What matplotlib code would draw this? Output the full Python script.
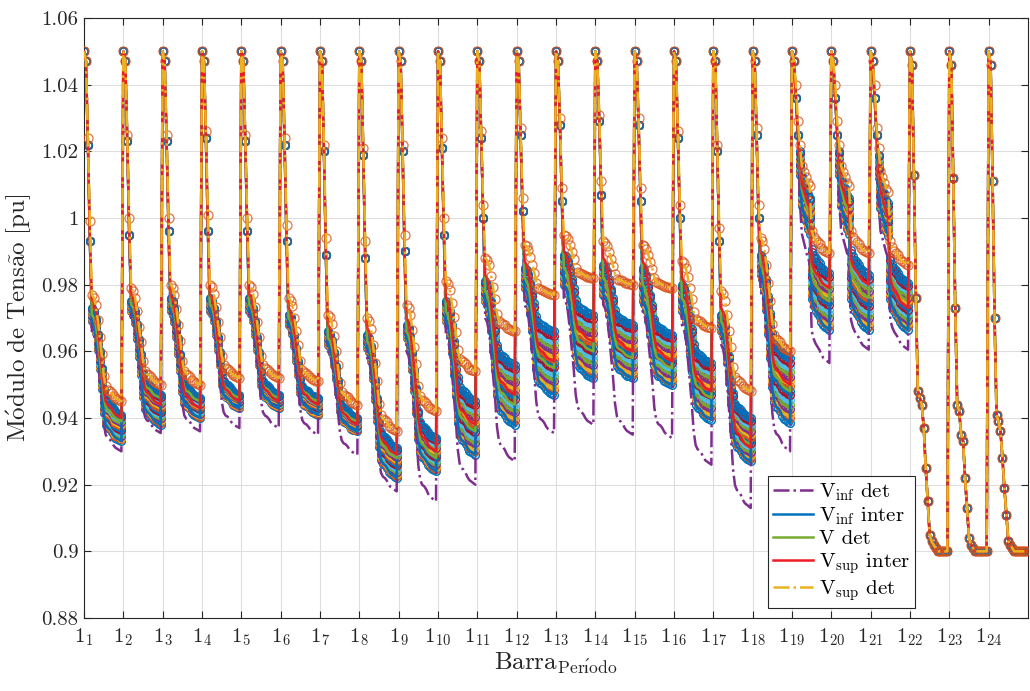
import numpy as np
import matplotlib
matplotlib.use('Agg')
import matplotlib.pyplot as plt

plt.rcParams['font.family'] = ['cmr10', 'DejaVu Serif']
plt.rcParams['mathtext.fontset'] = 'cm'
plt.rcParams['axes.formatter.use_mathtext'] = True

# Estrutura: 24 períodos, 20 barras por período
n_barras = 20
n_periodos = 24

# Barras 3 e 4 (cabeça do alimentador), períodos 1..21
cabeca_b3 = [1.022, 1.023, 1.023, 1.024, 1.023, 1.022, 1.020, 1.019, 1.020, 1.021, 1.024,
             1.025, 1.028, 1.029, 1.028, 1.024, 1.020, 1.025, 1.036, 1.036, 1.036]
cabeca_b4 = [0.993, 0.995, 0.996, 0.996, 0.996, 0.993, 0.989, 0.988, 0.990, 0.995, 1.000,
             1.002, 1.005, 1.007, 1.005, 1.000, 0.993, 1.000, 1.025, 1.025, 1.025]
cabeca_sup_b3 = [1.024, 1.025, 1.025, 1.026, 1.025, 1.024, 1.022, 1.021, 1.022, 1.024, 1.026,
                 1.027, 1.030, 1.031, 1.030, 1.026, 1.022, 1.027, 1.040, 1.040, 1.040]
cabeca_sup_b4 = [0.999, 1.000, 1.000, 1.001, 1.000, 0.998, 0.994, 0.993, 0.995, 1.000, 1.004,
                 1.006, 1.009, 1.011, 1.009, 1.004, 0.997, 1.004, 1.029, 1.029, 1.027]

# Valor no "joelho" (barra 5) de cada curva, períodos 1..21
joelho_sup = [0.977, 0.979, 0.980, 0.980, 0.980, 0.976, 0.971, 0.970, 0.974, 0.981, 0.988,
              0.992, 0.995, 0.993, 0.992, 0.987, 0.978, 0.994, 1.022, 1.022, 1.021]
joelho_alto = [0.973, 0.975, 0.976, 0.976, 0.976, 0.971, 0.966, 0.965, 0.968, 0.975, 0.981,
               0.985, 0.989, 0.986, 0.985, 0.980, 0.971, 0.989, 1.020, 1.020, 1.019]
joelho_baixo = [0.969, 0.972, 0.972, 0.972, 0.972, 0.968, 0.962, 0.961, 0.964, 0.969, 0.975,
                0.979, 0.980, 0.977, 0.975, 0.972, 0.966, 0.983, 1.013, 1.013, 1.012]
joelho_inf = [0.966, 0.970, 0.970, 0.971, 0.971, 0.966, 0.960, 0.958, 0.960, 0.965, 0.970,
              0.974, 0.976, 0.974, 0.972, 0.968, 0.962, 0.978, 1.005, 1.005, 1.005]
joelho_verm = [0.976, 0.977, 0.977, 0.977, 0.977, 0.973, 0.968, 0.967, 0.970, 0.976, 0.983,
               0.987, 0.990, 0.988, 0.987, 0.982, 0.973, 0.990, 1.018, 1.018, 1.017]
joelho_verde = [0.971, 0.974, 0.974, 0.974, 0.974, 0.970, 0.964, 0.963, 0.966, 0.972, 0.978,
                0.982, 0.985, 0.982, 0.980, 0.976, 0.969, 0.986, 1.017, 1.017, 1.016]

# Valor no fim do alimentador (barra 20), períodos 1..21
fim_sup = [0.945, 0.950, 0.950, 0.952, 0.952, 0.951, 0.944, 0.936, 0.942, 0.954, 0.966,
           0.977, 0.982, 0.980, 0.979, 0.967, 0.948, 0.960, 0.9895, 0.9895, 0.986]
fim_alto = [0.941, 0.947, 0.946, 0.947, 0.947, 0.946, 0.940, 0.931, 0.934, 0.945, 0.956,
            0.966, 0.971, 0.968, 0.965, 0.9565, 0.940, 0.958, 0.9835, 0.983, 0.9805]
fim_baixo = [0.933, 0.938, 0.940, 0.943, 0.943, 0.941, 0.936, 0.922, 0.924, 0.929, 0.938,
             0.947, 0.952, 0.952, 0.950, 0.9395, 0.927, 0.9385, 0.9665, 0.9665, 0.9665]
fim_inf = [0.930, 0.9355, 0.936, 0.937, 0.937, 0.935, 0.929, 0.918, 0.915, 0.920, 0.927,
           0.9355, 0.938, 0.935, 0.934, 0.926, 0.913, 0.930, 0.9565, 0.9605, 0.9605]
fim_verm = [0.940, 0.944, 0.943, 0.945, 0.945, 0.944, 0.938, 0.929, 0.930, 0.938, 0.947,
            0.957, 0.963, 0.960, 0.957, 0.948, 0.931, 0.950, 0.979, 0.980, 0.973]
fim_verde = [0.939, 0.946, 0.945, 0.946, 0.946, 0.945, 0.939, 0.928, 0.928, 0.936, 0.944,
             0.955, 0.960, 0.958, 0.955, 0.946, 0.932, 0.948, 0.975, 0.976, 0.975]

# Forma do perfil entre joelho (0) e fim (1), barras 5..20
forma_a = [0.0, 0.03, 0.10, 0.24, 0.40, 0.56, 0.76, 0.86, 0.89, 0.90, 0.92, 0.95, 0.97, 0.98, 0.99, 1.0]
forma_b = [0.0, 0.20, 0.25, 0.30, 0.35, 0.38, 0.80, 0.85, 0.88, 0.90, 0.92, 0.95, 0.97, 0.98, 0.99, 1.0]

# Períodos 22..24: todas as curvas coincidem
perfil_22 = [1.05, 1.046, 1.013, 0.976, 0.948, 0.946, 0.944, 0.937, 0.925, 0.915, 0.905, 0.903,
             0.902, 0.901, 0.900, 0.900, 0.900, 0.900, 0.900, 0.900]
perfil_23 = [1.05, 1.046, 1.012, 0.973, 0.944, 0.942, 0.935, 0.933, 0.922, 0.913, 0.904, 0.902,
             0.901, 0.900, 0.900, 0.900, 0.900, 0.900, 0.900, 0.900]
perfil_24 = [1.05, 1.046, 1.011, 0.970, 0.941, 0.939, 0.936, 0.928, 0.919, 0.911, 0.903, 0.902,
             0.901, 0.900, 0.900, 0.900, 0.900, 0.900, 0.900, 0.900]

# posição relativa de cada cenário dentro da faixa
q_cenarios = [0.0, 0.07, 0.14, 0.21, 0.28, 0.35, 0.43, 0.5, 0.57, 0.64, 0.71, 0.79, 0.86, 0.93, 1.0]

cores_matlab = [(0, 0.447, 0.741), (0.85, 0.325, 0.098), (0.929, 0.694, 0.125),
                (0.494, 0.184, 0.556), (0.466, 0.674, 0.188), (0.301, 0.745, 0.933),
                (0.635, 0.078, 0.184)]


def monta(b3, b4, joelho, fim):
    serie = []
    for k in range(21):
        forma = forma_b if k >= 18 else forma_a
        serie += [1.05, 1.047, b3[k], b4[k]]
        serie += [joelho[k] - f * (joelho[k] - fim[k]) for f in forma]
    for p in (perfil_22, perfil_23, perfil_24):
        serie += p
    return np.array(serie)


v_sup = monta(cabeca_sup_b3, cabeca_sup_b4, joelho_sup, fim_sup)
v_alto = monta(cabeca_b3, cabeca_b4, joelho_alto, fim_alto)
v_baixo = monta(cabeca_b3, cabeca_b4, joelho_baixo, fim_baixo)
v_inf = monta(cabeca_b3, cabeca_b4, joelho_inf, fim_inf)
v_verm = monta(cabeca_b3, cabeca_b4, joelho_verm, fim_verm)
v_verde = monta(cabeca_b3, cabeca_b4, joelho_verde, fim_verde)

x = np.arange(1, n_periodos * n_barras + 1)

fig = plt.figure(figsize=(10.3, 6.91), dpi=100)
ax = fig.add_axes([84 / 1030, 73 / 691, 944 / 1030, 600 / 691])

# cenários
for i, q in enumerate(q_cenarios):
    y = v_baixo + q * (v_alto - v_baixo)
    ax.plot(x, y, '-o', color=cores_matlab[i % 7], lw=1.0, ms=5.5, mfc='none', mew=1.0, zorder=2)

l1, = ax.plot(x, v_inf, '-.', color=(0.494, 0.184, 0.556), lw=1.8, zorder=3)
l2, = ax.plot(x, v_baixo, '-', color=(0, 0.447, 0.741), lw=1.8, zorder=3)
l3, = ax.plot(x, v_verde, '-', color=(0.466, 0.674, 0.188), lw=1.8, zorder=3)
l4, = ax.plot(x, v_verm, '-', color=(0.93, 0.11, 0.14), lw=1.8, zorder=3)
ax.plot(x, v_sup, 'o', color=(0.85, 0.325, 0.098), ms=6.5, mfc='none', mew=0.9, alpha=0.8, zorder=4)
l5, = ax.plot(x, v_sup, '-.', color=(0.929, 0.694, 0.125), lw=1.8, zorder=5)

ax.set_xlim(1, 481)
ax.set_ylim(0.88, 1.06)
yt = [0.88, 0.9, 0.92, 0.94, 0.96, 0.98, 1.0, 1.02, 1.04, 1.06]
ax.set_yticks(yt)
ax.set_yticklabels(['0.88', '0.9', '0.92', '0.94', '0.96', '0.98', '1', '1.02', '1.04', '1.06'])
ax.set_xticks([(k - 1) * n_barras + 1 for k in range(1, 25)])
ax.set_xticklabels([r'$1_{%d}$' % k for k in range(1, 25)])
ax.tick_params(direction='in', top=True, right=True, length=5, width=0.8,
               labelsize=15, colors='#262626', pad=4)
ax.tick_params(axis='x', pad=6)
ax.grid(True, color='#dedede', lw=0.8)
ax.set_axisbelow(True)
for s in ax.spines.values():
    s.set_color('#262626')
    s.set_linewidth(0.8)

ax.set_ylabel(r'$\mathrm{M\acute{o}dulo\ de\ Tens\tilde{a}o\ [pu]}$', fontsize=18, color='#262626', labelpad=6)
ax.set_xlabel(r'$\mathrm{Barra}_{\mathrm{Per\acute{\i}odo}}$', fontsize=18, color='#262626', labelpad=2)

leg = ax.legend([l1, l2, l3, l4, l5],
                [r'$\mathrm{V}_{\mathrm{inf}}$ det', r'$\mathrm{V}_{\mathrm{inf}}$ inter', 'V det',
                 r'$\mathrm{V}_{\mathrm{sup}}$ inter', r'$\mathrm{V}_{\mathrm{sup}}$ det'],
                loc='lower left', bbox_to_anchor=(0.7246, 0.0167), borderaxespad=0, fontsize=15,
                handlelength=1.9, handletextpad=0.3, labelspacing=0.12, borderpad=0.25,
                fancybox=False, framealpha=1, edgecolor='#262626')
leg.get_frame().set_linewidth(0.8)
leg.set_zorder(10)

fig.savefig('out.png', dpi=100)
